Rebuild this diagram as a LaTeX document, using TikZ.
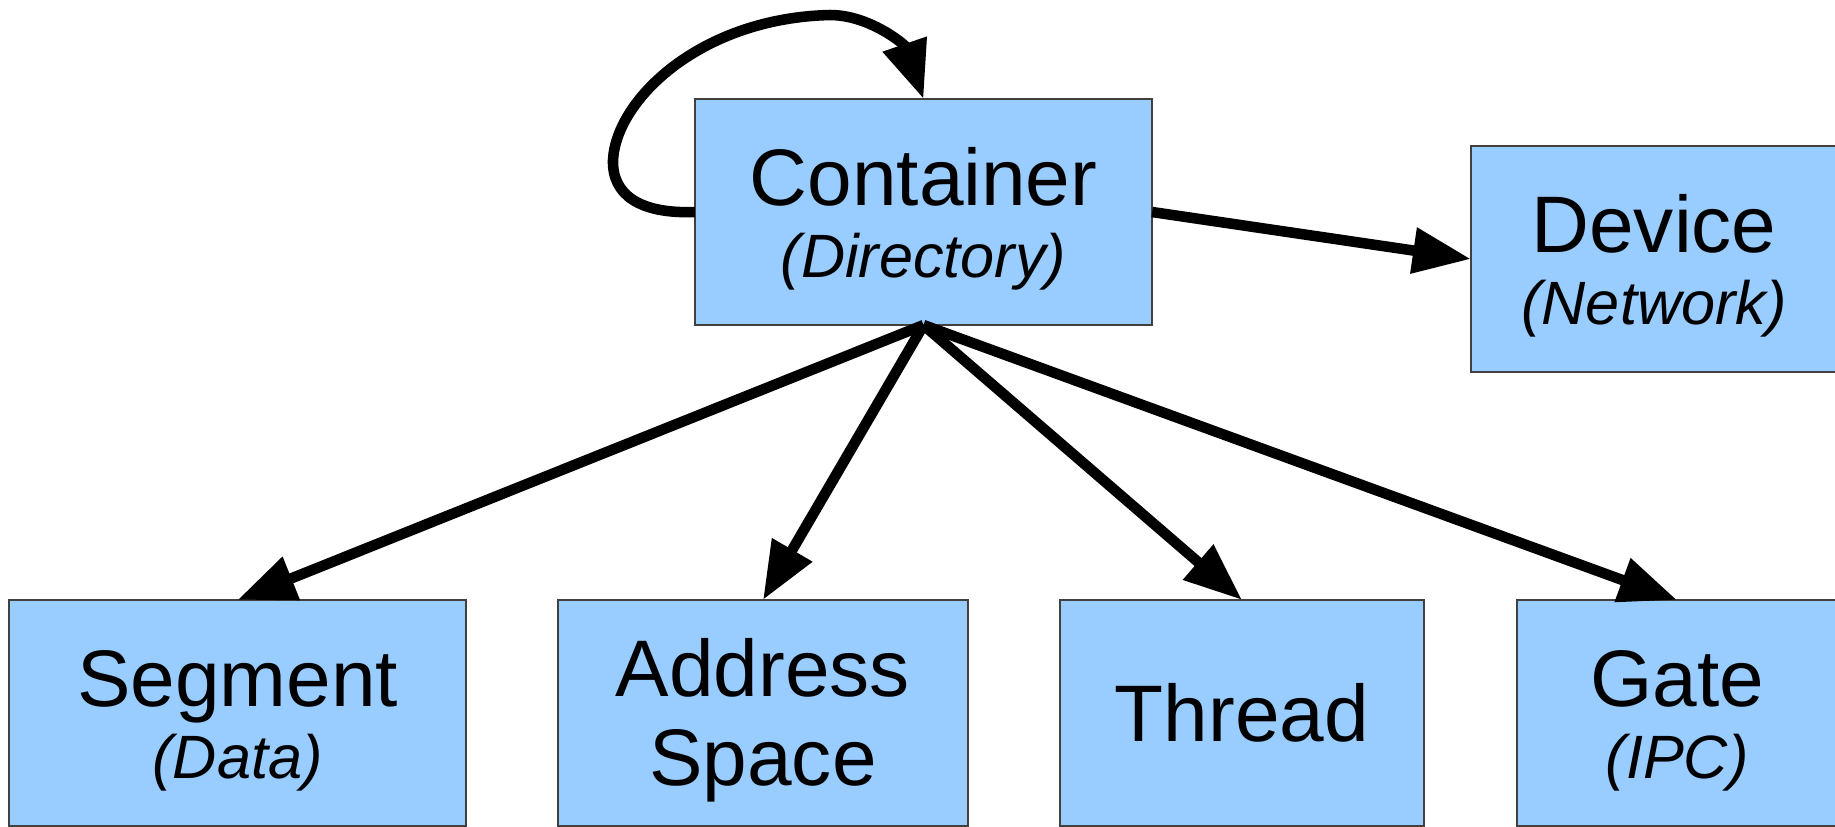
\documentclass[tikz,border=0pt]{standalone}
\usepackage{fontspec}
\setmainfont{Liberation Sans}
\usetikzlibrary{arrows.meta}

\definecolor{boxblue}{HTML}{99CCFF}
% name on top, kind of object below in smaller italics
\newcommand{\boxtext}[2]{\rule{0pt}{0.72cm}#1\\[-4.8pt]{\fontsize{17.4}{19.6}\selectfont\itshape #2}}

\tikzset{
  block/.style={draw=black!75, line width=0.6pt, fill=boxblue, minimum height=2.26cm,
    inner sep=0pt, outer sep=0pt, align=center, font=\fontsize{22.8}{25.3}\selectfont},
  link/.style={->, line width=3pt},
}

\begin{document}
\begin{tikzpicture}[x=0.01cm, y=-0.01cm, >={Triangle[length=0.58cm, width=0.44cm]}]
            \useasboundingbox (0,0) rectangle (1835,826);

            \node[block, minimum width=4.57cm] (container) at (923.5,212) {\boxtext{Container}{(Directory)}};
            \node[block, minimum width=3.66cm] (device) at (1654,259) {\boxtext{Device}{(Network)}};

            \node[block, minimum width=4.57cm] (segment) at (237.5,713) {\boxtext{Segment}{(Data)}};
            \node[block, minimum width=4.10cm] (aspace) at (763,713) {\rule{0pt}{0.72cm}Address\\Space};
            \node[block, minimum width=3.64cm] (thread) at (1242,713) {Thread};
            \node[block, minimum width=3.20cm] (gate) at (1677,713) {\boxtext{Gate}{(IPC)}};

            % containers can hold other containers
            \coordinate (loopleft) at (613,160);
            \coordinate (looptop) at (830,15);
            \draw[link] (container.west) .. controls (640,214) and (612,195) .. (loopleft)
                .. controls (616,100) and (700,18) .. (looptop)
                .. controls (870,15) and (905,45) .. (container.north);

            \draw[link] (container.east) -- (device.west);
            \foreach \obj in {segment, aspace, thread, gate}
                \draw[link] (container.south) -- (\obj.north);
        \end{tikzpicture}
\end{document}
